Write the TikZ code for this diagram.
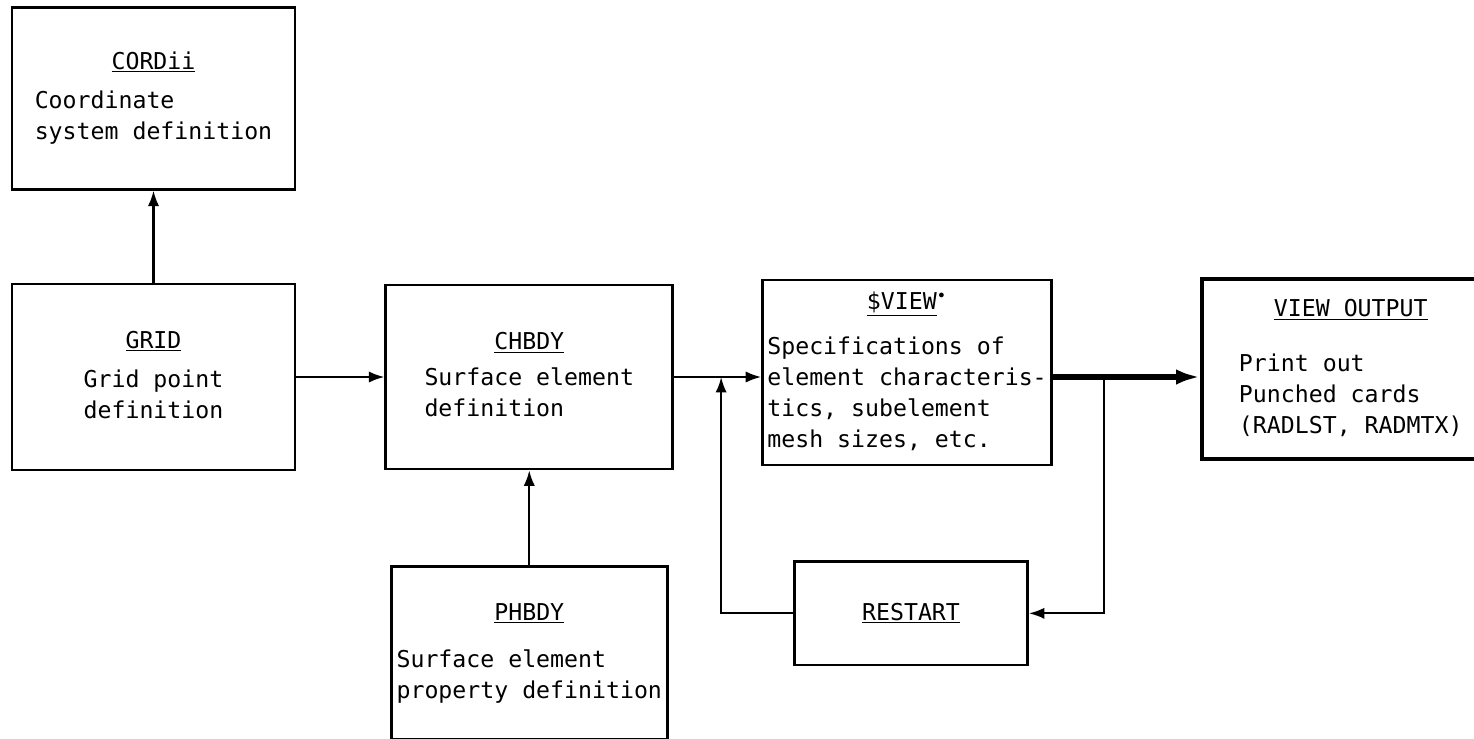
\documentclass[tikz,border=0pt]{standalone}
\usepackage{fontspec}
\newfontfamily\diagfont{DejaVu Sans Mono}
\usepackage{tikz}
\usetikzlibrary{arrows.meta, positioning}

% title underlined and centred over a left-aligned block
\newcommand{\boxlabel}[3][6pt]{%
  \begin{tabular}{@{}l@{}}\multicolumn{1}{@{}c@{}}{#2}\\[#1]#3\end{tabular}}

\begin{document}
\begin{tikzpicture}[
    x=0.025cm, y=-0.025cm,
    box/.style={rectangle, draw, line width=1.9pt, inner sep=0pt, font=\diagfont\fontsize{16.5}{22}\selectfont},
    outbox/.style={box, line width=3.2pt},
    arrow/.style={-{Latex[length=11pt,width=8pt]}, line width=1.5pt},
    bigarrow/.style={-{Latex[length=17pt,width=11pt]}, line width=3.8pt},
]
\useasboundingbox (0,0) rectangle (1474,738);

\node[box, minimum width=7.075cm, minimum height=4.65cm] (grid) at (153.5,377)
    {\boxlabel{\underline{GRID}}{Grid point\\definition}};
\node[box, minimum width=7.075cm, minimum height=4.55cm, above=2.3cm of grid] (cordii)
    {\boxlabel{\underline{CORDii}}{Coordinate\\system definition}};
\node[box, minimum width=7.175cm, minimum height=4.6cm, right=2.2cm of grid] (chbdy)
    {\boxlabel[3.5pt]{\underline{CHBDY}}{Surface element\\definition}};
\node[box, minimum width=6.9cm, minimum height=4.325cm, below=2.375cm of chbdy] (phbdy)
    {\boxlabel[11pt]{\underline{PHBDY}}{Surface element\\property definition}};
\node[box, minimum width=7.225cm, minimum height=4.625cm, right=2.175cm of chbdy, yshift=0.11cm] (sview)
    {\boxlabel[10pt]{\underline{\$VIEW}\textsuperscript{•}}{Specifications of\\element characteris-\\tics, subelement\\mesh sizes, etc.}};
\node[outbox, minimum width=7.425cm, minimum height=4.5cm, right=3.675cm of sview, yshift=0.09cm] (vo)
    {\boxlabel[17pt]{\underline{VIEW OUTPUT}}{Print out\\Punched cards\\(RADLST, RADMTX)}};
\node[box, minimum width=5.825cm, minimum height=2.575cm, below=2.35cm of sview, xshift=0.1cm] (restart)
    {\underline{RESTART}};

\path (chbdy.east) ++(47,0) coordinate (join);
\path (sview.east |- join) ++(51,0) coordinate (split);

\draw[arrow] (grid) -- (cordii);
\draw[arrow] (grid.east) -- (grid.east -| chbdy.west);
\draw[arrow] (chbdy.south |- phbdy.north) -- (chbdy.south);
\draw[arrow] (chbdy.east) -- (chbdy.east -| sview.west);
\draw[bigarrow] (sview.east |- join) -- (vo.west |- join);
\draw[arrow] (split) |- (restart.east);
\draw[arrow] (restart.west) -| (join);
\end{tikzpicture}
\end{document}
